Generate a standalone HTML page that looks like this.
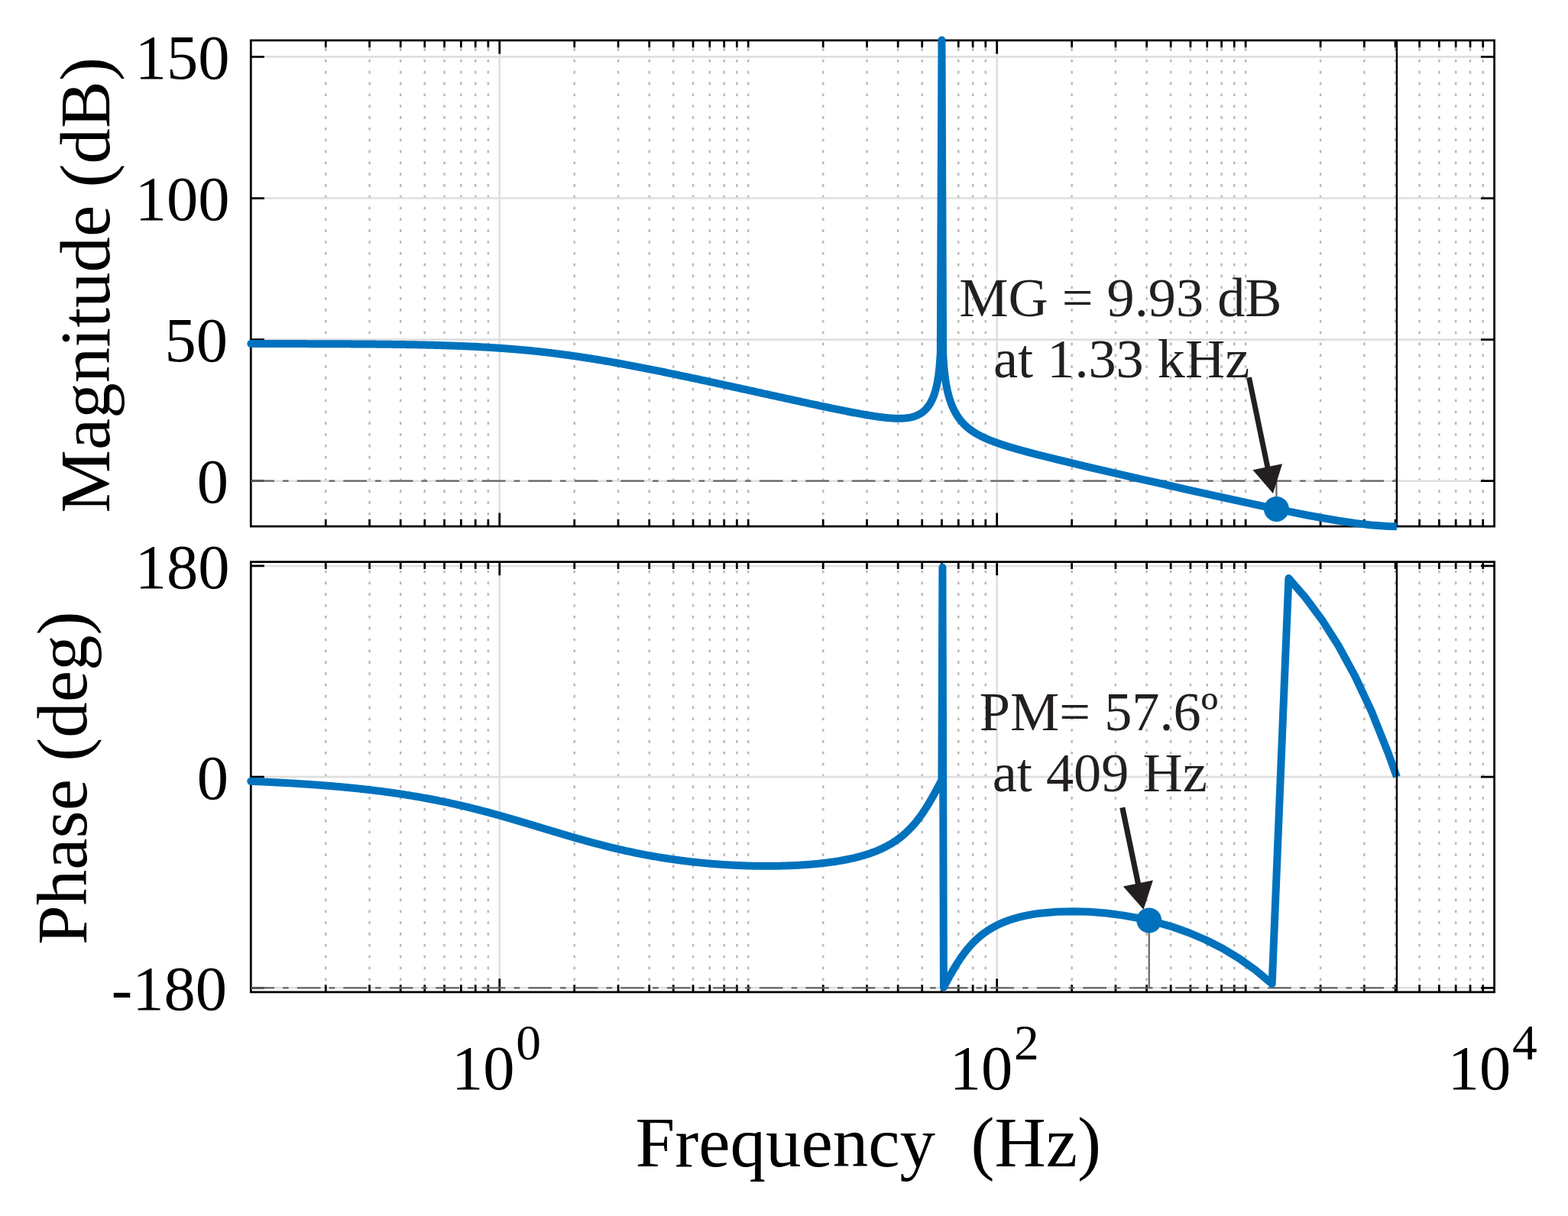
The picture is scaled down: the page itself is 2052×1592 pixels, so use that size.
<!DOCTYPE html>
<html lang="en">
<head>
<meta charset="utf-8">
<title>Bode plot - Magnitude (dB) and Phase (deg) vs Frequency (Hz)</title>
<style>
html,body{margin:0;padding:0;background:#fff;}
body{width:2052px;height:1592px;overflow:hidden;position:relative;}
svg text{font-kerning:none;white-space:pre;}
</style>
</head>
<body>
<svg width="2052" height="1592" viewBox="0 0 2052 1592" style="display:block;position:absolute;left:0;top:0">
<rect width="2052" height="1592" fill="#fff"/>
<g><line x1="426.27" x2="426.27" y1="689.35" y2="52.8" stroke="#b9b9b9" stroke-width="2.5" stroke-dasharray="3.6 11.224"/><line x1="483.58" x2="483.58" y1="689.35" y2="52.8" stroke="#b9b9b9" stroke-width="2.5" stroke-dasharray="3.6 11.224"/><line x1="524.25" x2="524.25" y1="689.35" y2="52.8" stroke="#b9b9b9" stroke-width="2.5" stroke-dasharray="3.6 11.224"/><line x1="555.79" x2="555.79" y1="689.35" y2="52.8" stroke="#b9b9b9" stroke-width="2.5" stroke-dasharray="3.6 11.224"/><line x1="581.56" x2="581.56" y1="689.35" y2="52.8" stroke="#b9b9b9" stroke-width="2.5" stroke-dasharray="3.6 11.224"/><line x1="603.35" x2="603.35" y1="689.35" y2="52.8" stroke="#b9b9b9" stroke-width="2.5" stroke-dasharray="3.6 11.224"/><line x1="622.22" x2="622.22" y1="689.35" y2="52.8" stroke="#b9b9b9" stroke-width="2.5" stroke-dasharray="3.6 11.224"/><line x1="638.87" x2="638.87" y1="689.35" y2="52.8" stroke="#b9b9b9" stroke-width="2.5" stroke-dasharray="3.6 11.224"/><line x1="653.76" x2="653.76" y1="52.8" y2="689.2" stroke="#dfdfdf" stroke-width="2.6"/><line x1="751.73" x2="751.73" y1="689.35" y2="52.8" stroke="#b9b9b9" stroke-width="2.5" stroke-dasharray="3.6 11.224"/><line x1="809.04" x2="809.04" y1="689.35" y2="52.8" stroke="#b9b9b9" stroke-width="2.5" stroke-dasharray="3.6 11.224"/><line x1="849.71" x2="849.71" y1="689.35" y2="52.8" stroke="#b9b9b9" stroke-width="2.5" stroke-dasharray="3.6 11.224"/><line x1="881.25" x2="881.25" y1="689.35" y2="52.8" stroke="#b9b9b9" stroke-width="2.5" stroke-dasharray="3.6 11.224"/><line x1="907.02" x2="907.02" y1="689.35" y2="52.8" stroke="#b9b9b9" stroke-width="2.5" stroke-dasharray="3.6 11.224"/><line x1="928.81" x2="928.81" y1="689.35" y2="52.8" stroke="#b9b9b9" stroke-width="2.5" stroke-dasharray="3.6 11.224"/><line x1="947.68" x2="947.68" y1="689.35" y2="52.8" stroke="#b9b9b9" stroke-width="2.5" stroke-dasharray="3.6 11.224"/><line x1="964.33" x2="964.33" y1="689.35" y2="52.8" stroke="#b9b9b9" stroke-width="2.5" stroke-dasharray="3.6 11.224"/><line x1="979.22" x2="979.22" y1="689.35" y2="52.8" stroke="#b9b9b9" stroke-width="2.5" stroke-dasharray="3.6 11.224"/><line x1="1077.19" x2="1077.19" y1="689.35" y2="52.8" stroke="#b9b9b9" stroke-width="2.5" stroke-dasharray="3.6 11.224"/><line x1="1134.5" x2="1134.5" y1="689.35" y2="52.8" stroke="#b9b9b9" stroke-width="2.5" stroke-dasharray="3.6 11.224"/><line x1="1175.17" x2="1175.17" y1="689.35" y2="52.8" stroke="#b9b9b9" stroke-width="2.5" stroke-dasharray="3.6 11.224"/><line x1="1206.71" x2="1206.71" y1="689.35" y2="52.8" stroke="#b9b9b9" stroke-width="2.5" stroke-dasharray="3.6 11.224"/><line x1="1232.48" x2="1232.48" y1="689.35" y2="52.8" stroke="#b9b9b9" stroke-width="2.5" stroke-dasharray="3.6 11.224"/><line x1="1254.27" x2="1254.27" y1="689.35" y2="52.8" stroke="#b9b9b9" stroke-width="2.5" stroke-dasharray="3.6 11.224"/><line x1="1273.14" x2="1273.14" y1="689.35" y2="52.8" stroke="#b9b9b9" stroke-width="2.5" stroke-dasharray="3.6 11.224"/><line x1="1289.79" x2="1289.79" y1="689.35" y2="52.8" stroke="#b9b9b9" stroke-width="2.5" stroke-dasharray="3.6 11.224"/><line x1="1304.68" x2="1304.68" y1="52.8" y2="689.2" stroke="#dfdfdf" stroke-width="2.6"/><line x1="1402.65" x2="1402.65" y1="689.35" y2="52.8" stroke="#b9b9b9" stroke-width="2.5" stroke-dasharray="3.6 11.224"/><line x1="1459.96" x2="1459.96" y1="689.35" y2="52.8" stroke="#b9b9b9" stroke-width="2.5" stroke-dasharray="3.6 11.224"/><line x1="1500.63" x2="1500.63" y1="689.35" y2="52.8" stroke="#b9b9b9" stroke-width="2.5" stroke-dasharray="3.6 11.224"/><line x1="1532.17" x2="1532.17" y1="689.35" y2="52.8" stroke="#b9b9b9" stroke-width="2.5" stroke-dasharray="3.6 11.224"/><line x1="1557.94" x2="1557.94" y1="689.35" y2="52.8" stroke="#b9b9b9" stroke-width="2.5" stroke-dasharray="3.6 11.224"/><line x1="1579.73" x2="1579.73" y1="689.35" y2="52.8" stroke="#b9b9b9" stroke-width="2.5" stroke-dasharray="3.6 11.224"/><line x1="1598.6" x2="1598.6" y1="689.35" y2="52.8" stroke="#b9b9b9" stroke-width="2.5" stroke-dasharray="3.6 11.224"/><line x1="1615.25" x2="1615.25" y1="689.35" y2="52.8" stroke="#b9b9b9" stroke-width="2.5" stroke-dasharray="3.6 11.224"/><line x1="1630.14" x2="1630.14" y1="689.35" y2="52.8" stroke="#b9b9b9" stroke-width="2.5" stroke-dasharray="3.6 11.224"/><line x1="1728.11" x2="1728.11" y1="689.35" y2="52.8" stroke="#b9b9b9" stroke-width="2.5" stroke-dasharray="3.6 11.224"/><line x1="1785.42" x2="1785.42" y1="689.35" y2="52.8" stroke="#b9b9b9" stroke-width="2.5" stroke-dasharray="3.6 11.224"/><line x1="1826.09" x2="1826.09" y1="689.35" y2="52.8" stroke="#b9b9b9" stroke-width="2.5" stroke-dasharray="3.6 11.224"/><line x1="1857.63" x2="1857.63" y1="689.35" y2="52.8" stroke="#b9b9b9" stroke-width="2.5" stroke-dasharray="3.6 11.224"/><line x1="1883.4" x2="1883.4" y1="689.35" y2="52.8" stroke="#b9b9b9" stroke-width="2.5" stroke-dasharray="3.6 11.224"/><line x1="1905.19" x2="1905.19" y1="689.35" y2="52.8" stroke="#b9b9b9" stroke-width="2.5" stroke-dasharray="3.6 11.224"/><line x1="1924.06" x2="1924.06" y1="689.35" y2="52.8" stroke="#b9b9b9" stroke-width="2.5" stroke-dasharray="3.6 11.224"/><line x1="1940.71" x2="1940.71" y1="689.35" y2="52.8" stroke="#b9b9b9" stroke-width="2.5" stroke-dasharray="3.6 11.224"/><line x1="328.3" x2="1955.6" y1="629.7" y2="629.7" stroke="#dfdfdf" stroke-width="2.6"/><line x1="328.3" x2="1955.6" y1="444.6" y2="444.6" stroke="#dfdfdf" stroke-width="2.6"/><line x1="328.3" x2="1955.6" y1="259.5" y2="259.5" stroke="#dfdfdf" stroke-width="2.6"/><line x1="328.3" x2="1955.6" y1="74.4" y2="74.4" stroke="#dfdfdf" stroke-width="2.6"/></g>
<path d="M328.3 52.8H1955.6V689.2H328.3ZM426.27 52.8v9.5M426.27 689.2v-9.5M483.58 52.8v9.5M483.58 689.2v-9.5M524.25 52.8v9.5M524.25 689.2v-9.5M555.79 52.8v9.5M555.79 689.2v-9.5M581.56 52.8v9.5M581.56 689.2v-9.5M603.35 52.8v9.5M603.35 689.2v-9.5M622.22 52.8v9.5M622.22 689.2v-9.5M638.87 52.8v9.5M638.87 689.2v-9.5M653.76 52.8v17.6M653.76 689.2v-17.6M751.73 52.8v9.5M751.73 689.2v-9.5M809.04 52.8v9.5M809.04 689.2v-9.5M849.71 52.8v9.5M849.71 689.2v-9.5M881.25 52.8v9.5M881.25 689.2v-9.5M907.02 52.8v9.5M907.02 689.2v-9.5M928.81 52.8v9.5M928.81 689.2v-9.5M947.68 52.8v9.5M947.68 689.2v-9.5M964.33 52.8v9.5M964.33 689.2v-9.5M979.22 52.8v9.5M979.22 689.2v-9.5M1077.19 52.8v9.5M1077.19 689.2v-9.5M1134.5 52.8v9.5M1134.5 689.2v-9.5M1175.17 52.8v9.5M1175.17 689.2v-9.5M1206.71 52.8v9.5M1206.71 689.2v-9.5M1232.48 52.8v9.5M1232.48 689.2v-9.5M1254.27 52.8v9.5M1254.27 689.2v-9.5M1273.14 52.8v9.5M1273.14 689.2v-9.5M1289.79 52.8v9.5M1289.79 689.2v-9.5M1304.68 52.8v17.6M1304.68 689.2v-17.6M1402.65 52.8v9.5M1402.65 689.2v-9.5M1459.96 52.8v9.5M1459.96 689.2v-9.5M1500.63 52.8v9.5M1500.63 689.2v-9.5M1532.17 52.8v9.5M1532.17 689.2v-9.5M1557.94 52.8v9.5M1557.94 689.2v-9.5M1579.73 52.8v9.5M1579.73 689.2v-9.5M1598.6 52.8v9.5M1598.6 689.2v-9.5M1615.25 52.8v9.5M1615.25 689.2v-9.5M1630.14 52.8v9.5M1630.14 689.2v-9.5M1728.11 52.8v9.5M1728.11 689.2v-9.5M1785.42 52.8v9.5M1785.42 689.2v-9.5M1826.09 52.8v9.5M1826.09 689.2v-9.5M1857.63 52.8v9.5M1857.63 689.2v-9.5M1883.4 52.8v9.5M1883.4 689.2v-9.5M1905.19 52.8v9.5M1905.19 689.2v-9.5M1924.06 52.8v9.5M1924.06 689.2v-9.5M1940.71 52.8v9.5M1940.71 689.2v-9.5M328.3 629.7h17.6M1955.6 629.7h-17.6M328.3 444.6h17.6M1955.6 444.6h-17.6M328.3 259.5h17.6M1955.6 259.5h-17.6M328.3 74.4h17.6M1955.6 74.4h-17.6" fill="none" stroke="#000" stroke-width="2.75" stroke-linejoin="miter"/>
<g><line x1="426.27" x2="426.27" y1="1298.8" y2="735.6" stroke="#b9b9b9" stroke-width="2.5" stroke-dasharray="3.6 11.224"/><line x1="483.58" x2="483.58" y1="1298.8" y2="735.6" stroke="#b9b9b9" stroke-width="2.5" stroke-dasharray="3.6 11.224"/><line x1="524.25" x2="524.25" y1="1298.8" y2="735.6" stroke="#b9b9b9" stroke-width="2.5" stroke-dasharray="3.6 11.224"/><line x1="555.79" x2="555.79" y1="1298.8" y2="735.6" stroke="#b9b9b9" stroke-width="2.5" stroke-dasharray="3.6 11.224"/><line x1="581.56" x2="581.56" y1="1298.8" y2="735.6" stroke="#b9b9b9" stroke-width="2.5" stroke-dasharray="3.6 11.224"/><line x1="603.35" x2="603.35" y1="1298.8" y2="735.6" stroke="#b9b9b9" stroke-width="2.5" stroke-dasharray="3.6 11.224"/><line x1="622.22" x2="622.22" y1="1298.8" y2="735.6" stroke="#b9b9b9" stroke-width="2.5" stroke-dasharray="3.6 11.224"/><line x1="638.87" x2="638.87" y1="1298.8" y2="735.6" stroke="#b9b9b9" stroke-width="2.5" stroke-dasharray="3.6 11.224"/><line x1="653.76" x2="653.76" y1="735.6" y2="1298.8" stroke="#dfdfdf" stroke-width="2.6"/><line x1="751.73" x2="751.73" y1="1298.8" y2="735.6" stroke="#b9b9b9" stroke-width="2.5" stroke-dasharray="3.6 11.224"/><line x1="809.04" x2="809.04" y1="1298.8" y2="735.6" stroke="#b9b9b9" stroke-width="2.5" stroke-dasharray="3.6 11.224"/><line x1="849.71" x2="849.71" y1="1298.8" y2="735.6" stroke="#b9b9b9" stroke-width="2.5" stroke-dasharray="3.6 11.224"/><line x1="881.25" x2="881.25" y1="1298.8" y2="735.6" stroke="#b9b9b9" stroke-width="2.5" stroke-dasharray="3.6 11.224"/><line x1="907.02" x2="907.02" y1="1298.8" y2="735.6" stroke="#b9b9b9" stroke-width="2.5" stroke-dasharray="3.6 11.224"/><line x1="928.81" x2="928.81" y1="1298.8" y2="735.6" stroke="#b9b9b9" stroke-width="2.5" stroke-dasharray="3.6 11.224"/><line x1="947.68" x2="947.68" y1="1298.8" y2="735.6" stroke="#b9b9b9" stroke-width="2.5" stroke-dasharray="3.6 11.224"/><line x1="964.33" x2="964.33" y1="1298.8" y2="735.6" stroke="#b9b9b9" stroke-width="2.5" stroke-dasharray="3.6 11.224"/><line x1="979.22" x2="979.22" y1="1298.8" y2="735.6" stroke="#b9b9b9" stroke-width="2.5" stroke-dasharray="3.6 11.224"/><line x1="1077.19" x2="1077.19" y1="1298.8" y2="735.6" stroke="#b9b9b9" stroke-width="2.5" stroke-dasharray="3.6 11.224"/><line x1="1134.5" x2="1134.5" y1="1298.8" y2="735.6" stroke="#b9b9b9" stroke-width="2.5" stroke-dasharray="3.6 11.224"/><line x1="1175.17" x2="1175.17" y1="1298.8" y2="735.6" stroke="#b9b9b9" stroke-width="2.5" stroke-dasharray="3.6 11.224"/><line x1="1206.71" x2="1206.71" y1="1298.8" y2="735.6" stroke="#b9b9b9" stroke-width="2.5" stroke-dasharray="3.6 11.224"/><line x1="1232.48" x2="1232.48" y1="1298.8" y2="735.6" stroke="#b9b9b9" stroke-width="2.5" stroke-dasharray="3.6 11.224"/><line x1="1254.27" x2="1254.27" y1="1298.8" y2="735.6" stroke="#b9b9b9" stroke-width="2.5" stroke-dasharray="3.6 11.224"/><line x1="1273.14" x2="1273.14" y1="1298.8" y2="735.6" stroke="#b9b9b9" stroke-width="2.5" stroke-dasharray="3.6 11.224"/><line x1="1289.79" x2="1289.79" y1="1298.8" y2="735.6" stroke="#b9b9b9" stroke-width="2.5" stroke-dasharray="3.6 11.224"/><line x1="1304.68" x2="1304.68" y1="735.6" y2="1298.8" stroke="#dfdfdf" stroke-width="2.6"/><line x1="1402.65" x2="1402.65" y1="1298.8" y2="735.6" stroke="#b9b9b9" stroke-width="2.5" stroke-dasharray="3.6 11.224"/><line x1="1459.96" x2="1459.96" y1="1298.8" y2="735.6" stroke="#b9b9b9" stroke-width="2.5" stroke-dasharray="3.6 11.224"/><line x1="1500.63" x2="1500.63" y1="1298.8" y2="735.6" stroke="#b9b9b9" stroke-width="2.5" stroke-dasharray="3.6 11.224"/><line x1="1532.17" x2="1532.17" y1="1298.8" y2="735.6" stroke="#b9b9b9" stroke-width="2.5" stroke-dasharray="3.6 11.224"/><line x1="1557.94" x2="1557.94" y1="1298.8" y2="735.6" stroke="#b9b9b9" stroke-width="2.5" stroke-dasharray="3.6 11.224"/><line x1="1579.73" x2="1579.73" y1="1298.8" y2="735.6" stroke="#b9b9b9" stroke-width="2.5" stroke-dasharray="3.6 11.224"/><line x1="1598.6" x2="1598.6" y1="1298.8" y2="735.6" stroke="#b9b9b9" stroke-width="2.5" stroke-dasharray="3.6 11.224"/><line x1="1615.25" x2="1615.25" y1="1298.8" y2="735.6" stroke="#b9b9b9" stroke-width="2.5" stroke-dasharray="3.6 11.224"/><line x1="1630.14" x2="1630.14" y1="1298.8" y2="735.6" stroke="#b9b9b9" stroke-width="2.5" stroke-dasharray="3.6 11.224"/><line x1="1728.11" x2="1728.11" y1="1298.8" y2="735.6" stroke="#b9b9b9" stroke-width="2.5" stroke-dasharray="3.6 11.224"/><line x1="1785.42" x2="1785.42" y1="1298.8" y2="735.6" stroke="#b9b9b9" stroke-width="2.5" stroke-dasharray="3.6 11.224"/><line x1="1826.09" x2="1826.09" y1="1298.8" y2="735.6" stroke="#b9b9b9" stroke-width="2.5" stroke-dasharray="3.6 11.224"/><line x1="1857.63" x2="1857.63" y1="1298.8" y2="735.6" stroke="#b9b9b9" stroke-width="2.5" stroke-dasharray="3.6 11.224"/><line x1="1883.4" x2="1883.4" y1="1298.8" y2="735.6" stroke="#b9b9b9" stroke-width="2.5" stroke-dasharray="3.6 11.224"/><line x1="1905.19" x2="1905.19" y1="1298.8" y2="735.6" stroke="#b9b9b9" stroke-width="2.5" stroke-dasharray="3.6 11.224"/><line x1="1924.06" x2="1924.06" y1="1298.8" y2="735.6" stroke="#b9b9b9" stroke-width="2.5" stroke-dasharray="3.6 11.224"/><line x1="1940.71" x2="1940.71" y1="1298.8" y2="735.6" stroke="#b9b9b9" stroke-width="2.5" stroke-dasharray="3.6 11.224"/><line x1="328.3" x2="1955.6" y1="1293.31" y2="1293.31" stroke="#dfdfdf" stroke-width="2.6"/><line x1="328.3" x2="1955.6" y1="1017.15" y2="1017.15" stroke="#dfdfdf" stroke-width="2.6"/><line x1="328.3" x2="1955.6" y1="740.99" y2="740.99" stroke="#dfdfdf" stroke-width="2.6"/></g>
<path d="M328.3 735.6H1955.6V1298.8H328.3ZM426.27 735.6v9.5M426.27 1298.8v-9.5M483.58 735.6v9.5M483.58 1298.8v-9.5M524.25 735.6v9.5M524.25 1298.8v-9.5M555.79 735.6v9.5M555.79 1298.8v-9.5M581.56 735.6v9.5M581.56 1298.8v-9.5M603.35 735.6v9.5M603.35 1298.8v-9.5M622.22 735.6v9.5M622.22 1298.8v-9.5M638.87 735.6v9.5M638.87 1298.8v-9.5M653.76 735.6v17.6M653.76 1298.8v-17.6M751.73 735.6v9.5M751.73 1298.8v-9.5M809.04 735.6v9.5M809.04 1298.8v-9.5M849.71 735.6v9.5M849.71 1298.8v-9.5M881.25 735.6v9.5M881.25 1298.8v-9.5M907.02 735.6v9.5M907.02 1298.8v-9.5M928.81 735.6v9.5M928.81 1298.8v-9.5M947.68 735.6v9.5M947.68 1298.8v-9.5M964.33 735.6v9.5M964.33 1298.8v-9.5M979.22 735.6v9.5M979.22 1298.8v-9.5M1077.19 735.6v9.5M1077.19 1298.8v-9.5M1134.5 735.6v9.5M1134.5 1298.8v-9.5M1175.17 735.6v9.5M1175.17 1298.8v-9.5M1206.71 735.6v9.5M1206.71 1298.8v-9.5M1232.48 735.6v9.5M1232.48 1298.8v-9.5M1254.27 735.6v9.5M1254.27 1298.8v-9.5M1273.14 735.6v9.5M1273.14 1298.8v-9.5M1289.79 735.6v9.5M1289.79 1298.8v-9.5M1304.68 735.6v17.6M1304.68 1298.8v-17.6M1402.65 735.6v9.5M1402.65 1298.8v-9.5M1459.96 735.6v9.5M1459.96 1298.8v-9.5M1500.63 735.6v9.5M1500.63 1298.8v-9.5M1532.17 735.6v9.5M1532.17 1298.8v-9.5M1557.94 735.6v9.5M1557.94 1298.8v-9.5M1579.73 735.6v9.5M1579.73 1298.8v-9.5M1598.6 735.6v9.5M1598.6 1298.8v-9.5M1615.25 735.6v9.5M1615.25 1298.8v-9.5M1630.14 735.6v9.5M1630.14 1298.8v-9.5M1728.11 735.6v9.5M1728.11 1298.8v-9.5M1785.42 735.6v9.5M1785.42 1298.8v-9.5M1826.09 735.6v9.5M1826.09 1298.8v-9.5M1857.63 735.6v9.5M1857.63 1298.8v-9.5M1883.4 735.6v9.5M1883.4 1298.8v-9.5M1905.19 735.6v9.5M1905.19 1298.8v-9.5M1924.06 735.6v9.5M1924.06 1298.8v-9.5M1940.71 735.6v9.5M1940.71 1298.8v-9.5M328.3 1293.31h17.6M1955.6 1293.31h-17.6M328.3 1017.15h17.6M1955.6 1017.15h-17.6M328.3 740.99h17.6M1955.6 740.99h-17.6" fill="none" stroke="#000" stroke-width="2.75" stroke-linejoin="miter"/>
<line x1="328.3" x2="1827.95" y1="629.7" y2="629.7" stroke="#646464" stroke-width="2.3" stroke-dasharray="30.7 11.1 7.6 11.1"/>
<line x1="328.3" x2="1827.95" y1="1293.31" y2="1293.31" stroke="#646464" stroke-width="2.3" stroke-dasharray="30.7 11.1 7.6 11.1"/>
<line x1="1827.95" x2="1827.95" y1="52.8" y2="689.2" stroke="#000" stroke-width="2.4"/>
<line x1="1670.45" x2="1670.45" y1="629.7" y2="666.43" stroke="#646464" stroke-width="2.2"/>
<line x1="1503.77" x2="1503.77" y1="1293.31" y2="1205.03" stroke="#646464" stroke-width="2.2"/>
<polyline points="328.3,450 329.59,450 330.88,450 332.17,450 333.46,450.01 334.76,450.01 336.05,450.01 337.34,450.01 338.63,450.01 339.92,450.01 341.21,450.01 342.5,450.02 343.79,450.02 345.09,450.02 346.38,450.02 347.67,450.02 348.96,450.02 350.25,450.03 351.54,450.03 352.83,450.03 354.12,450.03 355.41,450.03 356.71,450.04 358,450.04 359.29,450.04 360.58,450.04 361.87,450.04 363.16,450.05 364.45,450.05 365.74,450.05 367.03,450.05 368.33,450.05 369.62,450.06 370.91,450.06 372.2,450.06 373.49,450.06 374.78,450.07 376.07,450.07 377.36,450.07 378.66,450.07 379.95,450.08 381.24,450.08 382.53,450.08 383.82,450.08 385.11,450.09 386.4,450.09 387.69,450.09 388.98,450.1 390.28,450.1 391.57,450.1 392.86,450.1 394.15,450.11 395.44,450.11 396.73,450.11 398.02,450.12 399.31,450.12 400.6,450.12 401.9,450.13 403.19,450.13 404.48,450.14 405.77,450.14 407.06,450.14 408.35,450.15 409.64,450.15 410.93,450.16 412.23,450.16 413.52,450.16 414.81,450.17 416.1,450.17 417.39,450.18 418.68,450.18 419.97,450.19 421.26,450.19 422.55,450.19 423.85,450.2 425.14,450.2 426.43,450.21 427.72,450.21 429.01,450.22 430.3,450.23 431.59,450.23 432.88,450.24 434.17,450.24 435.47,450.25 436.76,450.25 438.05,450.26 439.34,450.26 440.63,450.27 441.92,450.28 443.21,450.28 444.5,450.29 445.8,450.3 447.09,450.3 448.38,450.31 449.67,450.32 450.96,450.32 452.25,450.33 453.54,450.34 454.83,450.35 456.12,450.35 457.42,450.36 458.71,450.37 460,450.38 461.29,450.38 462.58,450.39 463.87,450.4 465.16,450.41 466.45,450.42 467.74,450.43 469.04,450.44 470.33,450.45 471.62,450.46 472.91,450.46 474.2,450.47 475.49,450.48 476.78,450.49 478.07,450.5 479.37,450.51 480.66,450.53 481.95,450.54 483.24,450.55 484.53,450.56 485.82,450.57 487.11,450.58 488.4,450.59 489.69,450.6 490.99,450.62 492.28,450.63 493.57,450.64 494.86,450.65 496.15,450.67 497.44,450.68 498.73,450.69 500.02,450.71 501.31,450.72 502.61,450.74 503.9,450.75 505.19,450.77 506.48,450.78 507.77,450.8 509.06,450.81 510.35,450.83 511.64,450.84 512.94,450.86 514.23,450.88 515.52,450.89 516.81,450.91 518.1,450.93 519.39,450.95 520.68,450.96 521.97,450.98 523.26,451 524.56,451.02 525.85,451.04 527.14,451.06 528.43,451.08 529.72,451.1 531.01,451.12 532.3,451.14 533.59,451.16 534.89,451.18 536.18,451.21 537.47,451.23 538.76,451.25 540.05,451.28 541.34,451.3 542.63,451.32 543.92,451.35 545.21,451.37 546.51,451.4 547.8,451.42 549.09,451.45 550.38,451.48 551.67,451.51 552.96,451.53 554.25,451.56 555.54,451.59 556.83,451.62 558.13,451.65 559.42,451.68 560.71,451.71 562,451.74 563.29,451.77 564.58,451.8 565.87,451.84 567.16,451.87 568.46,451.9 569.75,451.94 571.04,451.97 572.33,452.01 573.62,452.04 574.91,452.08 576.2,452.12 577.49,452.15 578.78,452.19 580.08,452.23 581.37,452.27 582.66,452.31 583.95,452.35 585.24,452.39 586.53,452.43 587.82,452.48 589.11,452.52 590.4,452.56 591.7,452.61 592.99,452.65 594.28,452.7 595.57,452.75 596.86,452.79 598.15,452.84 599.44,452.89 600.73,452.94 602.03,452.99 603.32,453.04 604.61,453.1 605.9,453.15 607.19,453.2 608.48,453.26 609.77,453.31 611.06,453.37 612.35,453.43 613.65,453.48 614.94,453.54 616.23,453.6 617.52,453.66 618.81,453.72 620.1,453.78 621.39,453.85 622.68,453.91 623.97,453.98 625.27,454.04 626.56,454.11 627.85,454.18 629.14,454.25 630.43,454.32 631.72,454.39 633.01,454.46 634.3,454.53 635.6,454.6 636.89,454.68 638.18,454.75 639.47,454.83 640.76,454.91 642.05,454.99 643.34,455.07 644.63,455.15 645.92,455.23 647.22,455.31 648.51,455.4 649.8,455.48 651.09,455.57 652.38,455.66 653.67,455.74 654.96,455.83 656.25,455.92 657.54,456.02 658.84,456.11 660.13,456.2 661.42,456.3 662.71,456.4 664,456.49 665.29,456.59 666.58,456.69 667.87,456.79 669.17,456.9 670.46,457 671.75,457.11 673.04,457.21 674.33,457.32 675.62,457.43 676.91,457.54 678.2,457.65 679.49,457.76 680.79,457.88 682.08,457.99 683.37,458.11 684.66,458.23 685.95,458.34 687.24,458.47 688.53,458.59 689.82,458.71 691.11,458.83 692.41,458.96 693.7,459.09 694.99,459.21 696.28,459.34 697.57,459.47 698.86,459.61 700.15,459.74 701.44,459.88 702.74,460.01 704.03,460.15 705.32,460.29 706.61,460.43 707.9,460.57 709.19,460.71 710.48,460.86 711.77,461 713.06,461.15 714.36,461.3 715.65,461.45 716.94,461.6 718.23,461.75 719.52,461.9 720.81,462.06 722.1,462.21 723.39,462.37 724.69,462.53 725.98,462.69 727.27,462.85 728.56,463.01 729.85,463.18 731.14,463.34 732.43,463.51 733.72,463.68 735.01,463.85 736.31,464.02 737.6,464.19 738.89,464.36 740.18,464.54 741.47,464.72 742.76,464.89 744.05,465.07 745.34,465.25 746.63,465.43 747.93,465.61 749.22,465.8 750.51,465.98 751.8,466.17 753.09,466.36 754.38,466.54 755.67,466.73 756.96,466.92 758.26,467.12 759.55,467.31 760.84,467.5 762.13,467.7 763.42,467.9 764.71,468.1 766,468.3 767.29,468.5 768.58,468.7 769.88,468.9 771.17,469.1 772.46,469.31 773.75,469.52 775.04,469.72 776.33,469.93 777.62,470.14 778.91,470.35 780.2,470.56 781.5,470.78 782.79,470.99 784.08,471.2 785.37,471.42 786.66,471.64 787.95,471.85 789.24,472.07 790.53,472.29 791.83,472.51 793.12,472.74 794.41,472.96 795.7,473.18 796.99,473.41 798.28,473.63 799.57,473.86 800.86,474.09 802.15,474.32 803.45,474.55 804.74,474.78 806.03,475.01 807.32,475.24 808.61,475.47 809.9,475.71 811.19,475.94 812.48,476.18 813.77,476.41 815.07,476.65 816.36,476.89 817.65,477.13 818.94,477.37 820.23,477.61 821.52,477.85 822.81,478.09 824.1,478.34 825.4,478.58 826.69,478.82 827.98,479.07 829.27,479.31 830.56,479.56 831.85,479.81 833.14,480.06 834.43,480.3 835.72,480.55 837.02,480.8 838.31,481.05 839.6,481.31 840.89,481.56 842.18,481.81 843.47,482.06 844.76,482.32 846.05,482.57 847.34,482.83 848.64,483.08 849.93,483.34 851.22,483.59 852.51,483.85 853.8,484.11 855.09,484.37 856.38,484.63 857.67,484.89 858.97,485.15 860.26,485.41 861.55,485.67 862.84,485.93 864.13,486.19 865.42,486.46 866.71,486.72 868,486.98 869.29,487.25 870.59,487.51 871.88,487.78 873.17,488.04 874.46,488.31 875.75,488.57 877.04,488.84 878.33,489.11 879.62,489.37 880.91,489.64 882.21,489.91 883.5,490.18 884.79,490.45 886.08,490.72 887.37,490.99 888.66,491.26 889.95,491.53 891.24,491.8 892.54,492.07 893.83,492.34 895.12,492.61 896.41,492.89 897.7,493.16 898.99,493.43 900.28,493.7 901.57,493.98 902.86,494.25 904.16,494.53 905.45,494.8 906.74,495.08 908.03,495.35 909.32,495.63 910.61,495.9 911.9,496.18 913.19,496.45 914.49,496.73 915.78,497.01 917.07,497.28 918.36,497.56 919.65,497.84 920.94,498.11 922.23,498.39 923.52,498.67 924.81,498.95 926.11,499.23 927.4,499.51 928.69,499.78 929.98,500.06 931.27,500.34 932.56,500.62 933.85,500.9 935.14,501.18 936.43,501.46 937.73,501.74 939.02,502.02 940.31,502.3 941.6,502.58 942.89,502.86 944.18,503.14 945.47,503.42 946.76,503.71 948.06,503.99 949.35,504.27 950.64,504.55 951.93,504.83 953.22,505.11 954.51,505.4 955.8,505.68 957.09,505.96 958.38,506.24 959.68,506.52 960.97,506.81 962.26,507.09 963.55,507.37 964.84,507.65 966.13,507.94 967.42,508.22 968.71,508.5 970,508.79 971.3,509.07 972.59,509.35 973.88,509.64 975.17,509.92 976.46,510.2 977.75,510.49 979.04,510.77 980.33,511.05 981.63,511.34 982.92,511.62 984.21,511.9 985.5,512.19 986.79,512.47 988.08,512.75 989.37,513.04 990.66,513.32 991.95,513.61 993.25,513.89 994.54,514.17 995.83,514.46 997.12,514.74 998.41,515.02 999.7,515.31 1000.99,515.59 1002.28,515.88 1003.57,516.16 1004.87,516.44 1006.16,516.73 1007.45,517.01 1008.74,517.29 1010.03,517.58 1011.32,517.86 1012.61,518.14 1013.9,518.43 1015.2,518.71 1016.49,518.99 1017.78,519.28 1019.07,519.56 1020.36,519.84 1021.65,520.13 1022.94,520.41 1024.23,520.69 1025.52,520.97 1026.82,521.26 1028.11,521.54 1029.4,521.82 1030.69,522.1 1031.98,522.39 1033.27,522.67 1034.56,522.95 1035.85,523.23 1037.14,523.51 1038.44,523.79 1039.73,524.07 1041.02,524.36 1042.31,524.64 1043.6,524.92 1044.89,525.2 1046.18,525.48 1047.47,525.76 1048.77,526.04 1050.06,526.32 1051.35,526.6 1052.64,526.88 1053.93,527.15 1055.22,527.43 1056.51,527.71 1057.8,527.99 1059.09,528.27 1060.39,528.54 1061.68,528.82 1062.97,529.1 1064.26,529.37 1065.55,529.65 1066.84,529.93 1068.13,530.2 1069.42,530.48 1070.71,530.75 1072.01,531.03 1073.3,531.3 1074.59,531.57 1075.88,531.85 1077.17,532.12 1078.46,532.39 1079.75,532.66 1081.04,532.93 1082.34,533.2 1083.63,533.47 1084.92,533.74 1086.21,534.01 1087.5,534.28 1088.79,534.55 1090.08,534.81 1091.37,535.08 1092.66,535.35 1093.96,535.61 1095.25,535.87 1096.54,536.14 1097.83,536.4 1099.12,536.66 1100.41,536.92 1101.7,537.18 1102.99,537.44 1104.29,537.7 1105.58,537.96 1106.87,538.21 1108.16,538.47 1109.45,538.72 1110.74,538.97 1112.03,539.22 1113.32,539.47 1114.61,539.72 1115.91,539.97 1117.2,540.22 1118.49,540.46 1119.78,540.7 1121.07,540.94 1122.36,541.18 1123.65,541.42 1124.94,541.66 1126.23,541.89 1127.53,542.12 1128.82,542.35 1130.11,542.58 1131.4,542.81 1132.69,543.03 1133.98,543.25 1135.27,543.47 1136.56,543.68 1137.86,543.9 1139.15,544.11 1140.44,544.31 1141.73,544.52 1143.02,544.71 1144.31,544.91 1145.6,545.1 1146.89,545.29 1148.18,545.48 1149.48,545.66 1150.77,545.83 1152.06,546 1153.35,546.17 1154.64,546.33 1155.93,546.48 1157.22,546.63 1158.51,546.77 1159.8,546.91 1161.1,547.03 1162.39,547.16 1163.68,547.27 1164.97,547.37 1166.26,547.47 1167.55,547.56 1168.84,547.63 1170.13,547.7 1171.43,547.75 1172.72,547.8 1174.01,547.83 1175.3,547.85 1176.59,547.85 1177.88,547.84 1179.17,547.81 1180.46,547.76 1181.75,547.7 1183.05,547.62 1184.34,547.51 1185.63,547.39 1186.92,547.23 1188.21,547.06 1189.5,546.85 1190.79,546.62 1192.08,546.35 1193.37,546.05 1194.67,545.71 1195.96,545.33 1197.25,544.91 1198.54,544.44 1199.83,543.91 1201.12,543.34 1202.41,542.7 1203.7,541.99 1205,541.22 1206.29,540.36 1207.58,539.41 1208.87,538.37 1210.16,537.22 1211.45,535.95 1212.74,534.54 1214.03,532.98 1215.32,531.25 1216.62,529.31 1217.91,527.15 1219.2,524.71 1220.49,521.95 1221.78,518.79 1223.07,515.14 1224.36,510.85 1225.65,505.71 1226.94,499.38 1228.24,491.23 1229.53,479.92 1230.82,461.74 1232.48,52.6 1234.12,462.12 1234.43,467.88 1234.75,472.78 1235.07,477.04 1235.39,480.82 1235.71,484.21 1236.02,487.28 1236.34,490.1 1236.66,492.69 1236.98,495.1 1237.29,497.34 1237.61,499.44 1237.93,501.42 1238.25,503.29 1238.57,505.05 1238.88,506.73 1239.2,508.33 1239.52,509.85 1239.84,511.31 1240.15,512.71 1240.47,514.05 1240.79,515.33 1241.11,516.57 1241.42,517.77 1241.74,518.92 1242.06,520.03 1242.38,521.11 1242.7,522.15 1243.01,523.16 1243.33,524.13 1243.65,525.08 1243.97,526 1244.28,526.9 1244.6,527.77 1244.92,528.62 1245.24,529.45 1245.56,530.25 1245.87,531.04 1246.19,531.8 1246.51,532.55 1246.83,533.28 1247.14,533.99 1247.46,534.68 1247.78,535.37 1248.1,536.03 1248.42,536.68 1248.73,537.32 1249.05,537.94 1249.37,538.55 1249.69,539.15 1250,539.74 1250.32,540.31 1250.64,540.88 1250.96,541.43 1251.28,541.97 1251.59,542.5 1251.91,543.03 1252.23,543.54 1252.55,544.04 1252.86,544.54 1253.18,545.02 1253.5,545.5 1253.82,545.97 1254.14,546.43 1254.45,546.89 1254.77,547.33 1255.09,547.77 1255.41,548.2 1255.72,548.63 1256.04,549.05 1256.36,549.46 1256.68,549.86 1256.99,550.26 1257.31,550.66 1257.63,551.04 1257.95,551.42 1258.27,551.8 1258.58,552.17 1258.9,552.53 1259.22,552.89 1259.54,553.25 1259.85,553.6 1260.17,553.94 1260.49,554.28 1260.81,554.62 1261.13,554.95 1261.44,555.27 1261.76,555.6 1262.08,555.91 1262.4,556.23 1262.71,556.54 1263.03,556.84 1263.35,557.14 1263.67,557.44 1263.99,557.74 1264.3,558.03 1264.62,558.31 1264.94,558.6 1265.26,558.88 1265.57,559.15 1265.89,559.43 1266.21,559.7 1266.53,559.96 1266.85,560.23 1267.16,560.49 1267.48,560.74 1267.8,561 1268.12,561.25 1268.43,561.5 1268.75,561.75 1269.07,561.99 1269.39,562.23 1269.7,562.47 1270.02,562.71 1270.34,562.94 1270.66,563.17 1270.98,563.4 1271.29,563.63 1271.61,563.85 1271.93,564.07 1272.25,564.29 1272.56,564.51 1272.88,564.72 1273.2,564.94 1273.52,565.15 1273.84,565.36 1274.15,565.57 1274.47,565.77 1274.79,565.97 1275.11,566.18 1275.42,566.37 1275.74,566.57 1276.06,566.77 1276.38,566.96 1276.7,567.15 1277.01,567.35 1277.33,567.53 1277.65,567.72 1277.97,567.91 1278.28,568.09 1278.6,568.28 1278.92,568.46 1279.24,568.64 1279.56,568.81 1279.87,568.99 1280.19,569.17 1280.51,569.34 1280.83,569.51 1281.14,569.68 1281.46,569.85 1281.78,570.02 1282.1,570.19 1282.42,570.36 1282.73,570.52 1283.05,570.69 1283.37,570.85 1283.69,571.01 1284,571.17 1284.32,571.33 1284.64,571.49 1284.96,571.64 1285.27,571.8 1285.59,571.95 1285.91,572.11 1286.23,572.26 1286.55,572.41 1286.86,572.56 1287.18,572.71 1287.5,572.86 1287.82,573.01 1288.13,573.15 1288.45,573.3 1288.77,573.44 1289.09,573.59 1289.41,573.73 1289.72,573.87 1290.04,574.01 1290.36,574.15 1290.68,574.29 1290.99,574.43 1291.31,574.57 1291.63,574.71 1291.95,574.84 1292.27,574.98 1292.58,575.11 1292.9,575.25 1293.22,575.38 1293.54,575.51 1293.85,575.65 1294.17,575.78 1294.49,575.91 1294.81,576.04 1295.13,576.17 1295.44,576.29 1295.76,576.42 1296.08,576.55 1296.4,576.68 1296.71,576.8 1297.03,576.93 1297.35,577.05 1297.67,577.18 1297.98,577.3 1298.3,577.42 1298.62,577.54 1298.94,577.67 1299.26,577.79 1299.57,577.91 1299.89,578.03 1300.21,578.15 1300.53,578.27 1300.84,578.39 1301.16,578.5 1301.48,578.62 1301.8,578.74 1302.12,578.85 1302.43,578.97 1302.75,579.09 1303.07,579.2 1303.39,579.32 1303.7,579.43 1304.02,579.54 1304.34,579.66 1304.66,579.77 1304.98,579.88 1305.29,579.99 1305.61,580.1 1305.93,580.22 1306.25,580.33 1306.56,580.44 1306.88,580.55 1307.2,580.66 1307.52,580.77 1307.84,580.87 1308.15,580.98 1308.47,581.09 1308.79,581.2 1309.11,581.31 1309.42,581.41 1309.74,581.52 1310.06,581.62 1310.38,581.73 1310.7,581.84 1311.01,581.94 1311.33,582.05 1311.65,582.15 1311.97,582.25 1312.28,582.36 1312.6,582.46 1312.92,582.57 1313.24,582.67 1313.55,582.77 1313.87,582.87 1314.19,582.97 1314.51,583.08 1314.83,583.18 1315.14,583.28 1315.46,583.38 1315.78,583.48 1316.1,583.58 1316.41,583.68 1316.73,583.78 1317.05,583.88 1317.37,583.98 1317.69,584.08 1318,584.18 1318.32,584.28 1318.64,584.37 1318.96,584.47 1319.27,584.57 1319.59,584.67 1319.91,584.76 1320.23,584.86 1320.55,584.96 1320.86,585.05 1321.18,585.15 1321.5,585.25 1321.82,585.34 1322.13,585.44 1322.45,585.53 1322.77,585.63 1323.09,585.72 1323.41,585.82 1323.72,585.91 1324.04,586.01 1324.36,586.1 1324.68,586.19 1324.99,586.29 1325.31,586.38 1325.63,586.48 1325.95,586.57 1326.26,586.66 1326.58,586.75 1326.9,586.85 1327.22,586.94 1327.54,587.03 1327.85,587.12 1328.17,587.22 1328.49,587.31 1328.81,587.4 1329.12,587.49 1329.44,587.58 1329.76,587.67 1330.08,587.76 1330.4,587.85 1330.71,587.94 1331.03,588.03 1331.35,588.13 1331.67,588.22 1331.98,588.31 1332.3,588.39 1332.62,588.48 1332.94,588.57 1333.26,588.66 1333.57,588.75 1333.89,588.84 1334.21,588.93 1334.53,589.02 1334.84,589.11 1335.16,589.2 1335.48,589.28 1335.8,589.37 1336.12,589.46 1336.43,589.55 1336.75,589.64 1337.07,589.72 1337.39,589.81 1337.7,589.9 1338.02,589.99 1338.34,590.07 1338.66,590.16 1338.98,590.25 1339.29,590.33 1339.61,590.42 1339.93,590.51 1340.25,590.59 1340.56,590.68 1340.88,590.77 1341.2,590.85 1341.52,590.94 1341.83,591.02 1342.15,591.11 1342.47,591.2 1342.79,591.28 1343.11,591.37 1343.42,591.45 1343.74,591.54 1344.06,591.62 1344.38,591.71 1344.69,591.79 1345.01,591.88 1345.33,591.96 1345.65,592.05 1345.97,592.13 1346.28,592.22 1346.6,592.3 1346.92,592.38 1347.24,592.47 1347.55,592.55 1347.87,592.64 1348.19,592.72 1348.51,592.8 1348.83,592.89 1349.14,592.97 1349.46,593.05 1349.78,593.14 1350.1,593.22 1350.41,593.3 1350.73,593.39 1351.05,593.47 1351.37,593.55 1351.69,593.64 1352,593.72 1352.32,593.8 1352.64,593.88 1352.96,593.97 1353.27,594.05 1353.59,594.13 1353.91,594.21 1354.23,594.3 1354.54,594.38 1354.86,594.46 1355.18,594.54 1355.5,594.63 1355.82,594.71 1356.13,594.79 1356.45,594.87 1356.77,594.95 1357.09,595.03 1357.4,595.12 1357.72,595.2 1358.04,595.28 1358.36,595.36 1358.68,595.44 1358.99,595.52 1359.31,595.6 1359.63,595.68 1359.95,595.77 1360.26,595.85 1360.58,595.93 1360.9,596.01 1382.6,601.41 1404.3,606.63 1426,611.76 1447.7,616.81 1469.4,621.82 1491.1,626.8 1512.8,631.74 1534.5,636.66 1556.2,641.54 1577.9,646.4 1599.6,651.21 1621.3,655.96 1643,660.65 1664.7,665.24 1686.4,669.7 1708.1,673.98 1729.8,678.01 1751.5,681.7 1773.2,684.91 1794.9,687.42 1816.6,688.94 1827.95,689.17" fill="none" stroke="#0072BD" stroke-width="10.0" stroke-linejoin="round" stroke-linecap="butt"/>
<circle cx="328.3" cy="450" r="5" fill="#0072BD"/>
<polyline points="328.3,1022.86 329.59,1022.92 330.89,1022.97 332.18,1023.02 333.47,1023.08 334.77,1023.13 336.06,1023.19 337.35,1023.24 338.65,1023.3 339.94,1023.35 341.23,1023.41 342.53,1023.47 343.82,1023.53 345.11,1023.58 346.41,1023.64 347.7,1023.7 348.99,1023.76 350.29,1023.82 351.58,1023.88 352.88,1023.95 354.17,1024.01 355.46,1024.07 356.76,1024.13 358.05,1024.2 359.34,1024.26 360.64,1024.33 361.93,1024.39 363.22,1024.46 364.52,1024.53 365.81,1024.59 367.1,1024.66 368.4,1024.73 369.69,1024.8 370.98,1024.87 372.28,1024.94 373.57,1025.01 374.86,1025.08 376.16,1025.16 377.45,1025.23 378.74,1025.3 380.04,1025.38 381.33,1025.45 382.62,1025.53 383.92,1025.6 385.21,1025.68 386.5,1025.76 387.8,1025.84 389.09,1025.92 390.38,1026 391.68,1026.08 392.97,1026.16 394.26,1026.24 395.56,1026.33 396.85,1026.41 398.15,1026.49 399.44,1026.58 400.73,1026.66 402.03,1026.75 403.32,1026.84 404.61,1026.93 405.91,1027.02 407.2,1027.11 408.49,1027.2 409.79,1027.29 411.08,1027.38 412.37,1027.47 413.67,1027.57 414.96,1027.66 416.25,1027.76 417.55,1027.86 418.84,1027.95 420.13,1028.05 421.43,1028.15 422.72,1028.25 424.01,1028.35 425.31,1028.45 426.6,1028.56 427.89,1028.66 429.19,1028.76 430.48,1028.87 431.77,1028.98 433.07,1029.08 434.36,1029.19 435.65,1029.3 436.95,1029.41 438.24,1029.52 439.53,1029.63 440.83,1029.75 442.12,1029.86 443.42,1029.98 444.71,1030.09 446,1030.21 447.3,1030.33 448.59,1030.45 449.88,1030.57 451.18,1030.69 452.47,1030.81 453.76,1030.93 455.06,1031.06 456.35,1031.18 457.64,1031.31 458.94,1031.44 460.23,1031.57 461.52,1031.7 462.82,1031.83 464.11,1031.96 465.4,1032.09 466.7,1032.23 467.99,1032.36 469.28,1032.5 470.58,1032.64 471.87,1032.78 473.16,1032.92 474.46,1033.06 475.75,1033.2 477.04,1033.35 478.34,1033.49 479.63,1033.64 480.92,1033.79 482.22,1033.94 483.51,1034.09 484.8,1034.24 486.1,1034.39 487.39,1034.55 488.69,1034.7 489.98,1034.86 491.27,1035.02 492.57,1035.18 493.86,1035.34 495.15,1035.5 496.45,1035.66 497.74,1035.83 499.03,1035.99 500.33,1036.16 501.62,1036.33 502.91,1036.5 504.21,1036.67 505.5,1036.85 506.79,1037.02 508.09,1037.2 509.38,1037.38 510.67,1037.55 511.97,1037.73 513.26,1037.92 514.55,1038.1 515.85,1038.29 517.14,1038.47 518.43,1038.66 519.73,1038.85 521.02,1039.04 522.31,1039.23 523.61,1039.43 524.9,1039.62 526.19,1039.82 527.49,1040.02 528.78,1040.22 530.07,1040.42 531.37,1040.62 532.66,1040.83 533.96,1041.04 535.25,1041.24 536.54,1041.45 537.84,1041.67 539.13,1041.88 540.42,1042.09 541.72,1042.31 543.01,1042.53 544.3,1042.75 545.6,1042.97 546.89,1043.19 548.18,1043.42 549.48,1043.64 550.77,1043.87 552.06,1044.1 553.36,1044.33 554.65,1044.57 555.94,1044.8 557.24,1045.04 558.53,1045.28 559.82,1045.52 561.12,1045.76 562.41,1046 563.7,1046.25 565,1046.5 566.29,1046.75 567.58,1047 568.88,1047.25 570.17,1047.5 571.46,1047.76 572.76,1048.02 574.05,1048.28 575.34,1048.54 576.64,1048.8 577.93,1049.07 579.23,1049.33 580.52,1049.6 581.81,1049.87 583.11,1050.14 584.4,1050.42 585.69,1050.69 586.99,1050.97 588.28,1051.25 589.57,1051.53 590.87,1051.82 592.16,1052.1 593.45,1052.39 594.75,1052.68 596.04,1052.97 597.33,1053.26 598.63,1053.55 599.92,1053.85 601.21,1054.14 602.51,1054.44 603.8,1054.74 605.09,1055.05 606.39,1055.35 607.68,1055.66 608.97,1055.96 610.27,1056.27 611.56,1056.59 612.85,1056.9 614.15,1057.21 615.44,1057.53 616.73,1057.85 618.03,1058.17 619.32,1058.49 620.61,1058.81 621.91,1059.14 623.2,1059.46 624.5,1059.79 625.79,1060.12 627.08,1060.45 628.38,1060.79 629.67,1061.12 630.96,1061.46 632.26,1061.8 633.55,1062.14 634.84,1062.48 636.14,1062.82 637.43,1063.16 638.72,1063.51 640.02,1063.86 641.31,1064.2 642.6,1064.55 643.9,1064.91 645.19,1065.26 646.48,1065.61 647.78,1065.97 649.07,1066.33 650.36,1066.68 651.66,1067.04 652.95,1067.4 654.24,1067.77 655.54,1068.13 656.83,1068.49 658.12,1068.86 659.42,1069.23 660.71,1069.6 662,1069.96 663.3,1070.34 664.59,1070.71 665.88,1071.08 667.18,1071.45 668.47,1071.83 669.77,1072.2 671.06,1072.58 672.35,1072.96 673.65,1073.34 674.94,1073.71 676.23,1074.09 677.53,1074.48 678.82,1074.86 680.11,1075.24 681.41,1075.62 682.7,1076.01 683.99,1076.39 685.29,1076.78 686.58,1077.16 687.87,1077.55 689.17,1077.93 690.46,1078.32 691.75,1078.71 693.05,1079.1 694.34,1079.49 695.63,1079.88 696.93,1080.26 698.22,1080.65 699.51,1081.04 700.81,1081.43 702.1,1081.82 703.39,1082.22 704.69,1082.61 705.98,1083 707.27,1083.39 708.57,1083.78 709.86,1084.17 711.15,1084.56 712.45,1084.95 713.74,1085.34 715.04,1085.73 716.33,1086.12 717.62,1086.51 718.92,1086.9 720.21,1087.29 721.5,1087.68 722.8,1088.07 724.09,1088.46 725.38,1088.85 726.68,1089.23 727.97,1089.62 729.26,1090.01 730.56,1090.39 731.85,1090.78 733.14,1091.16 734.44,1091.55 735.73,1091.93 737.02,1092.31 738.32,1092.7 739.61,1093.08 740.9,1093.46 742.2,1093.84 743.49,1094.22 744.78,1094.59 746.08,1094.97 747.37,1095.35 748.66,1095.72 749.96,1096.1 751.25,1096.47 752.54,1096.84 753.84,1097.21 755.13,1097.58 756.42,1097.95 757.72,1098.32 759.01,1098.68 760.31,1099.05 761.6,1099.41 762.89,1099.77 764.19,1100.13 765.48,1100.49 766.77,1100.85 768.07,1101.21 769.36,1101.56 770.65,1101.91 771.95,1102.27 773.24,1102.62 774.53,1102.97 775.83,1103.31 777.12,1103.66 778.41,1104 779.71,1104.35 781,1104.69 782.29,1105.03 783.59,1105.36 784.88,1105.7 786.17,1106.04 787.47,1106.37 788.76,1106.7 790.05,1107.03 791.35,1107.36 792.64,1107.68 793.93,1108 795.23,1108.33 796.52,1108.65 797.81,1108.96 799.11,1109.28 800.4,1109.6 801.69,1109.91 802.99,1110.22 804.28,1110.53 805.58,1110.83 806.87,1111.14 808.16,1111.44 809.46,1111.74 810.75,1112.04 812.04,1112.34 813.34,1112.63 814.63,1112.93 815.92,1113.22 817.22,1113.51 818.51,1113.79 819.8,1114.08 821.1,1114.36 822.39,1114.64 823.68,1114.92 824.98,1115.2 826.27,1115.47 827.56,1115.75 828.86,1116.02 830.15,1116.28 831.44,1116.55 832.74,1116.81 834.03,1117.08 835.32,1117.34 836.62,1117.59 837.91,1117.85 839.2,1118.1 840.5,1118.36 841.79,1118.61 843.08,1118.85 844.38,1119.1 845.67,1119.34 846.96,1119.58 848.26,1119.82 849.55,1120.06 850.85,1120.29 852.14,1120.53 853.43,1120.76 854.73,1120.98 856.02,1121.21 857.31,1121.43 858.61,1121.66 859.9,1121.88 861.19,1122.09 862.49,1122.31 863.78,1122.52 865.07,1122.74 866.37,1122.94 867.66,1123.15 868.95,1123.36 870.25,1123.56 871.54,1123.76 872.83,1123.96 874.13,1124.16 875.42,1124.35 876.71,1124.54 878.01,1124.73 879.3,1124.92 880.59,1125.11 881.89,1125.29 883.18,1125.48 884.47,1125.66 885.77,1125.83 887.06,1126.01 888.35,1126.19 889.65,1126.36 890.94,1126.53 892.23,1126.69 893.53,1126.86 894.82,1127.02 896.12,1127.19 897.41,1127.35 898.7,1127.5 900,1127.66 901.29,1127.81 902.58,1127.97 903.88,1128.12 905.17,1128.26 906.46,1128.41 907.76,1128.55 909.05,1128.69 910.34,1128.83 911.64,1128.97 912.93,1129.11 914.22,1129.24 915.52,1129.37 916.81,1129.5 918.1,1129.63 919.4,1129.76 920.69,1129.88 921.98,1130 923.28,1130.12 924.57,1130.24 925.86,1130.36 927.16,1130.47 928.45,1130.58 929.74,1130.69 931.04,1130.8 932.33,1130.91 933.62,1131.01 934.92,1131.12 936.21,1131.22 937.5,1131.32 938.8,1131.41 940.09,1131.51 941.39,1131.6 942.68,1131.69 943.97,1131.78 945.27,1131.87 946.56,1131.96 947.85,1132.04 949.15,1132.12 950.44,1132.2 951.73,1132.28 953.03,1132.36 954.32,1132.43 955.61,1132.5 956.91,1132.57 958.2,1132.64 959.49,1132.71 960.79,1132.77 962.08,1132.84 963.37,1132.9 964.67,1132.96 965.96,1133.01 967.25,1133.07 968.55,1133.12 969.84,1133.17 971.13,1133.22 972.43,1133.27 973.72,1133.32 975.01,1133.36 976.31,1133.4 977.6,1133.44 978.89,1133.48 980.19,1133.52 981.48,1133.55 982.77,1133.58 984.07,1133.61 985.36,1133.64 986.66,1133.67 987.95,1133.69 989.24,1133.72 990.54,1133.74 991.83,1133.76 993.12,1133.77 994.42,1133.79 995.71,1133.8 997,1133.81 998.3,1133.82 999.59,1133.83 1000.88,1133.83 1002.18,1133.84 1003.47,1133.84 1004.76,1133.83 1006.06,1133.83 1007.35,1133.83 1008.64,1133.82 1009.94,1133.81 1011.23,1133.8 1012.52,1133.79 1013.82,1133.77 1015.11,1133.75 1016.4,1133.73 1017.7,1133.71 1018.99,1133.69 1020.28,1133.66 1021.58,1133.63 1022.87,1133.6 1024.16,1133.57 1025.46,1133.53 1026.75,1133.5 1028.04,1133.46 1029.34,1133.42 1030.63,1133.37 1031.93,1133.32 1033.22,1133.28 1034.51,1133.23 1035.81,1133.17 1037.1,1133.12 1038.39,1133.06 1039.69,1133 1040.98,1132.93 1042.27,1132.87 1043.57,1132.8 1044.86,1132.73 1046.15,1132.66 1047.45,1132.58 1048.74,1132.5 1050.03,1132.42 1051.33,1132.34 1052.62,1132.25 1053.91,1132.16 1055.21,1132.07 1056.5,1131.97 1057.79,1131.88 1059.09,1131.77 1060.38,1131.67 1061.67,1131.56 1062.97,1131.45 1064.26,1131.34 1065.55,1131.23 1066.85,1131.11 1068.14,1130.99 1069.43,1130.86 1070.73,1130.73 1072.02,1130.6 1073.31,1130.46 1074.61,1130.32 1075.9,1130.18 1077.2,1130.04 1078.49,1129.89 1079.78,1129.73 1081.08,1129.58 1082.37,1129.42 1083.66,1129.25 1084.96,1129.08 1086.25,1128.91 1087.54,1128.73 1088.84,1128.55 1090.13,1128.37 1091.42,1128.18 1092.72,1127.98 1094.01,1127.78 1095.3,1127.58 1096.6,1127.37 1097.89,1127.16 1099.18,1126.94 1100.48,1126.72 1101.77,1126.49 1103.06,1126.26 1104.36,1126.02 1105.65,1125.78 1106.94,1125.53 1108.24,1125.27 1109.53,1125.01 1110.82,1124.74 1112.12,1124.47 1113.41,1124.19 1114.7,1123.9 1116,1123.61 1117.29,1123.31 1118.58,1123.01 1119.88,1122.69 1121.17,1122.37 1122.47,1122.04 1123.76,1121.71 1125.05,1121.36 1126.35,1121.01 1127.64,1120.65 1128.93,1120.28 1130.23,1119.9 1131.52,1119.52 1132.81,1119.12 1134.11,1118.72 1135.4,1118.3 1136.69,1117.88 1137.99,1117.44 1139.28,1116.99 1140.57,1116.53 1141.87,1116.07 1143.16,1115.58 1144.45,1115.09 1145.75,1114.59 1147.04,1114.07 1148.33,1113.54 1149.63,1112.99 1150.92,1112.43 1152.21,1111.86 1153.51,1111.27 1154.8,1110.67 1156.09,1110.05 1157.39,1109.41 1158.68,1108.76 1159.97,1108.08 1161.27,1107.39 1162.56,1106.69 1163.85,1105.96 1165.15,1105.21 1166.44,1104.44 1167.73,1103.65 1169.03,1102.84 1170.32,1102 1171.62,1101.15 1172.91,1100.26 1174.2,1099.35 1175.5,1098.42 1176.79,1097.46 1178.08,1096.47 1179.38,1095.45 1180.67,1094.4 1181.96,1093.33 1183.26,1092.22 1184.55,1091.07 1185.84,1089.9 1187.14,1088.69 1188.43,1087.44 1189.72,1086.16 1191.02,1084.84 1192.31,1083.49 1193.6,1082.09 1194.9,1080.65 1196.19,1079.18 1197.48,1077.66 1198.78,1076.09 1200.07,1074.49 1201.36,1072.84 1202.66,1071.14 1203.95,1069.41 1205.24,1067.62 1206.54,1065.79 1207.83,1063.92 1209.12,1062 1210.42,1060.03 1211.71,1058.02 1213,1055.97 1214.3,1053.87 1215.59,1051.74 1216.89,1049.56 1218.18,1047.34 1219.47,1045.09 1220.77,1042.81 1222.06,1040.49 1223.35,1038.14 1224.65,1035.77 1225.94,1033.38 1227.23,1030.97 1228.53,1028.54 1229.82,1026.1 1231.11,1023.65 1232.41,1021.2 1233.42,742.84 1234.93,1292.58 1235.24,1291.99 1235.56,1291.39 1235.88,1290.8 1236.19,1290.2 1236.51,1289.61 1236.82,1289.01 1237.14,1288.42 1237.45,1287.83 1237.77,1287.24 1238.09,1286.65 1238.4,1286.06 1238.72,1285.47 1239.03,1284.89 1239.35,1284.3 1239.66,1283.72 1239.98,1283.14 1240.3,1282.55 1240.61,1281.97 1240.93,1281.4 1241.24,1280.82 1241.56,1280.24 1241.88,1279.67 1242.19,1279.1 1242.51,1278.53 1242.82,1277.96 1243.14,1277.39 1243.45,1276.82 1243.77,1276.26 1244.09,1275.7 1244.4,1275.14 1244.72,1274.58 1245.03,1274.02 1245.35,1273.47 1245.66,1272.92 1245.98,1272.37 1246.3,1271.82 1246.61,1271.27 1246.93,1270.73 1247.24,1270.19 1247.56,1269.65 1247.87,1269.11 1248.19,1268.58 1248.51,1268.05 1248.82,1267.52 1249.14,1266.99 1249.45,1266.46 1249.77,1265.94 1250.08,1265.42 1250.4,1264.9 1250.72,1264.39 1251.03,1263.88 1251.35,1263.37 1251.66,1262.86 1251.98,1262.35 1252.29,1261.85 1252.61,1261.35 1252.93,1260.85 1253.24,1260.36 1253.56,1259.87 1253.87,1259.38 1254.19,1258.89 1254.5,1258.41 1254.82,1257.92 1255.14,1257.45 1255.45,1256.97 1255.77,1256.5 1256.08,1256.03 1256.4,1255.56 1256.71,1255.09 1257.03,1254.63 1257.35,1254.17 1257.66,1253.71 1257.98,1253.26 1258.29,1252.81 1258.61,1252.36 1258.92,1251.91 1259.24,1251.47 1259.56,1251.03 1259.87,1250.59 1260.19,1250.16 1260.5,1249.72 1260.82,1249.29 1261.13,1248.87 1261.45,1248.44 1261.77,1248.02 1262.08,1247.6 1262.4,1247.19 1262.71,1246.78 1263.03,1246.36 1263.34,1245.96 1263.66,1245.55 1263.98,1245.15 1264.29,1244.75 1264.61,1244.35 1264.92,1243.96 1265.24,1243.57 1265.55,1243.18 1265.87,1242.79 1266.19,1242.41 1266.5,1242.03 1266.82,1241.65 1267.13,1241.27 1267.45,1240.9 1267.76,1240.53 1268.08,1240.16 1268.4,1239.8 1268.71,1239.43 1269.03,1239.07 1269.34,1238.71 1269.66,1238.36 1269.97,1238.01 1270.29,1237.65 1270.61,1237.31 1270.92,1236.96 1271.24,1236.62 1271.55,1236.28 1271.87,1235.94 1272.18,1235.6 1272.5,1235.27 1272.82,1234.94 1273.13,1234.61 1273.45,1234.28 1273.76,1233.96 1274.08,1233.64 1274.39,1233.32 1274.71,1233 1275.03,1232.69 1275.34,1232.38 1275.66,1232.07 1275.97,1231.76 1276.29,1231.45 1276.6,1231.15 1276.92,1230.85 1277.24,1230.55 1277.55,1230.25 1277.87,1229.96 1278.18,1229.66 1278.5,1229.37 1278.81,1229.09 1279.13,1228.8 1279.45,1228.52 1279.76,1228.23 1280.08,1227.95 1280.39,1227.68 1280.71,1227.4 1281.02,1227.13 1281.34,1226.85 1281.66,1226.58 1281.97,1226.32 1282.29,1226.05 1282.6,1225.79 1282.92,1225.52 1283.23,1225.26 1283.55,1225.01 1283.87,1224.75 1284.18,1224.5 1284.5,1224.24 1284.81,1223.99 1285.13,1223.74 1285.44,1223.5 1285.76,1223.25 1286.08,1223.01 1286.39,1222.77 1286.71,1222.53 1287.02,1222.29 1287.34,1222.05 1287.65,1221.82 1287.97,1221.58 1288.29,1221.35 1288.6,1221.12 1288.92,1220.9 1289.23,1220.67 1289.55,1220.44 1289.86,1220.22 1290.18,1220 1290.5,1219.78 1290.81,1219.56 1291.13,1219.35 1291.44,1219.13 1291.76,1218.92 1292.07,1218.71 1292.39,1218.5 1292.71,1218.29 1293.02,1218.08 1293.34,1217.88 1293.65,1217.67 1293.97,1217.47 1294.28,1217.27 1294.6,1217.07 1294.92,1216.87 1295.23,1216.67 1295.55,1216.48 1295.86,1216.28 1296.18,1216.09 1296.49,1215.9 1296.81,1215.71 1297.13,1215.52 1297.44,1215.33 1297.76,1215.15 1298.07,1214.96 1298.39,1214.78 1298.7,1214.6 1299.02,1214.42 1299.34,1214.24 1299.65,1214.06 1299.97,1213.89 1300.28,1213.71 1300.6,1213.54 1300.91,1213.36 1301.23,1213.19 1301.55,1213.02 1301.86,1212.85 1302.18,1212.69 1302.49,1212.52 1302.81,1212.35 1303.12,1212.19 1303.44,1212.03 1303.76,1211.87 1304.07,1211.71 1304.39,1211.55 1304.7,1211.39 1305.02,1211.23 1305.33,1211.07 1305.65,1210.92 1305.97,1210.77 1306.28,1210.61 1306.6,1210.46 1306.91,1210.31 1307.23,1210.16 1307.54,1210.01 1307.86,1209.87 1308.18,1209.72 1308.49,1209.57 1308.81,1209.43 1309.12,1209.29 1309.44,1209.14 1309.75,1209 1310.07,1208.86 1310.39,1208.72 1310.7,1208.59 1311.02,1208.45 1311.33,1208.31 1311.65,1208.18 1311.96,1208.04 1312.28,1207.91 1312.6,1207.78 1312.91,1207.65 1313.23,1207.52 1313.54,1207.39 1313.86,1207.26 1314.17,1207.13 1314.49,1207 1314.81,1206.88 1315.12,1206.75 1315.44,1206.63 1315.75,1206.51 1316.07,1206.38 1316.38,1206.26 1316.7,1206.14 1317.02,1206.02 1317.33,1205.9 1317.65,1205.78 1317.96,1205.67 1318.28,1205.55 1318.59,1205.44 1318.91,1205.32 1319.23,1205.21 1319.54,1205.09 1319.86,1204.98 1320.17,1204.87 1320.49,1204.76 1320.8,1204.65 1321.12,1204.54 1321.44,1204.43 1321.75,1204.32 1322.07,1204.22 1322.38,1204.11 1322.7,1204.01 1323.01,1203.9 1323.33,1203.8 1323.65,1203.7 1323.96,1203.59 1324.28,1203.49 1324.59,1203.39 1324.91,1203.29 1325.22,1203.19 1325.54,1203.09 1325.86,1202.99 1326.17,1202.9 1326.49,1202.8 1326.8,1202.71 1327.12,1202.61 1327.43,1202.52 1327.75,1202.42 1328.07,1202.33 1328.38,1202.24 1328.7,1202.14 1329.01,1202.05 1329.33,1201.96 1329.64,1201.87 1329.96,1201.78 1330.28,1201.7 1330.59,1201.61 1330.91,1201.52 1331.22,1201.43 1331.54,1201.35 1331.85,1201.26 1332.17,1201.18 1332.49,1201.09 1332.8,1201.01 1333.12,1200.93 1333.43,1200.85 1333.75,1200.76 1334.06,1200.68 1334.38,1200.6 1334.7,1200.52 1335.01,1200.44 1335.33,1200.36 1335.64,1200.29 1335.96,1200.21 1336.27,1200.13 1336.59,1200.06 1336.91,1199.98 1337.22,1199.9 1337.54,1199.83 1337.85,1199.76 1338.17,1199.68 1338.48,1199.61 1338.8,1199.54 1339.12,1199.46 1339.43,1199.39 1339.75,1199.32 1340.06,1199.25 1340.38,1199.18 1340.69,1199.11 1341.01,1199.04 1341.33,1198.98 1341.64,1198.91 1341.96,1198.84 1342.27,1198.77 1342.59,1198.71 1342.9,1198.64 1343.22,1198.58 1343.54,1198.51 1343.85,1198.45 1344.17,1198.39 1344.48,1198.32 1344.8,1198.26 1345.11,1198.2 1345.43,1198.14 1345.75,1198.07 1346.06,1198.01 1346.38,1197.95 1346.69,1197.89 1347.01,1197.83 1347.32,1197.78 1347.64,1197.72 1347.96,1197.66 1348.27,1197.6 1348.59,1197.55 1348.9,1197.49 1349.22,1197.43 1349.53,1197.38 1349.85,1197.32 1350.17,1197.27 1350.48,1197.21 1350.8,1197.16 1351.11,1197.11 1351.43,1197.05 1351.74,1197 1352.06,1196.95 1352.38,1196.9 1352.69,1196.85 1353.01,1196.8 1353.32,1196.75 1353.64,1196.7 1353.95,1196.65 1354.27,1196.6 1354.59,1196.55 1354.9,1196.5 1355.22,1196.45 1355.53,1196.41 1355.85,1196.36 1356.16,1196.31 1356.48,1196.27 1356.8,1196.22 1357.11,1196.18 1357.43,1196.13 1357.74,1196.09 1358.06,1196.04 1358.37,1196 1358.69,1195.96 1359.01,1195.91 1359.32,1195.87 1359.64,1195.83 1359.95,1195.79 1360.27,1195.74 1360.58,1195.7 1360.9,1195.66 1382.6,1193.71 1404.3,1193.17 1426,1193.82 1447.7,1195.56 1469.4,1198.35 1491.1,1202.24 1512.8,1207.27 1534.5,1213.56 1556.2,1221.24 1577.9,1230.49 1599.6,1241.52 1621.3,1254.6 1643,1270.02 1664.7,1288.16 1686.4,757.12 1708.1,782.04 1729.8,811.18 1751.5,845.25 1773.2,885.02 1794.9,931.46 1816.6,985.63 1827.95,1017.15" fill="none" stroke="#0072BD" stroke-width="10.0" stroke-linejoin="round" stroke-linecap="butt"/>
<circle cx="328.3" cy="1022.86" r="5" fill="#0072BD"/>
<line x1="1827.95" x2="1827.95" y1="735.6" y2="1298.8" stroke="#000" stroke-width="2.4"/>
<circle cx="1670.45" cy="666.43" r="16.5" fill="#0072BD"/>
<circle cx="1503.77" cy="1205.03" r="16.5" fill="#0072BD"/>
<text x="300.5" y="103" font-size="82.5" text-anchor="end" fill="#000" font-family="'Liberation Serif', serif" xml:space="preserve">150</text>
<text x="300.5" y="288.1" font-size="82.5" text-anchor="end" fill="#000" font-family="'Liberation Serif', serif" xml:space="preserve">100</text>
<text x="298" y="473.2" font-size="82.5" text-anchor="end" fill="#000" font-family="'Liberation Serif', serif" xml:space="preserve">50</text>
<text x="298.9" y="658.3" font-size="82.5" text-anchor="end" fill="#000" font-family="'Liberation Serif', serif" xml:space="preserve">0</text>
<text x="300.5" y="769.59" font-size="82.5" text-anchor="end" fill="#000" font-family="'Liberation Serif', serif" xml:space="preserve">180</text>
<text x="298.9" y="1045.75" font-size="82.5" text-anchor="end" fill="#000" font-family="'Liberation Serif', serif" xml:space="preserve">0</text>
<text x="297.1" y="1321.91" font-size="82.5" text-anchor="end" fill="#000" font-family="'Liberation Serif', serif" xml:space="preserve">-180</text>
<text x="590.9" y="1425.8" font-size="82.5" fill="#000" font-family="'Liberation Serif', serif">10<tspan font-size="65.5" dx="1.9" dy="-38.7">0</tspan></text>
<text x="1242.7" y="1425.8" font-size="82.5" fill="#000" font-family="'Liberation Serif', serif">10<tspan font-size="65.5" dx="1.9" dy="-38.7">2</tspan></text>
<text x="1894.7" y="1425.8" font-size="82.5" fill="#000" font-family="'Liberation Serif', serif">10<tspan font-size="65.5" dx="1.9" dy="-38.7">4</tspan></text>
<text x="1136.3" y="1527.1" font-size="93" text-anchor="middle" fill="#000" font-family="'Liberation Serif', serif" xml:space="preserve">Frequency  (Hz)</text>
<text transform="translate(142.8 373.3) rotate(-90)" font-size="93" text-anchor="middle" fill="#000" font-family="'Liberation Serif', serif">Magnitude (dB)</text>
<text transform="translate(113.1 1018.8) rotate(-90)" font-size="93" text-anchor="middle" fill="#000" font-family="'Liberation Serif', serif">Phase (deg)</text>
<text x="1255.2" y="414.4" font-size="72.3" text-anchor="start" fill="#231f20" font-family="'Liberation Serif', serif" xml:space="preserve">MG = 9.93 dB</text>
<text x="1300" y="494.2" font-size="72.3" text-anchor="start" fill="#231f20" font-family="'Liberation Serif', serif" xml:space="preserve">at 1.33 kHz</text>
<text x="1281.8" y="956.1" font-size="72.3" text-anchor="start" fill="#231f20" font-family="'Liberation Serif', serif" xml:space="preserve">PM= 57.6º</text>
<text x="1298.7" y="1036.1" font-size="72.3" text-anchor="start" fill="#231f20" font-family="'Liberation Serif', serif" xml:space="preserve">at 409 Hz</text>
<line x1="1634.5" y1="494.1" x2="1659.18" y2="613.2" stroke="#231f20" stroke-width="7"/>
<polygon points="1666,646.1 1639.44,615.25 1678.11,607.23" fill="#231f20"/>
<line x1="1468.8" y1="1057.3" x2="1489.78" y2="1158.39" stroke="#231f20" stroke-width="7.2"/>
<polygon points="1496.5,1190.8 1469.84,1160.49 1508.9,1152.38" fill="#231f20"/>
</svg>
</body>
</html>
